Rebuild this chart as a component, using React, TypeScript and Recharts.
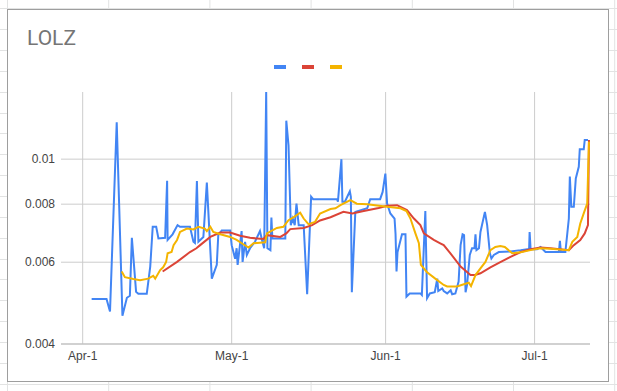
import React from 'react';
import { LineChart, Line, XAxis, YAxis, CartesianGrid } from 'recharts';

// Days counted from Apr-1 (t = 0)
const xTickValues = [0, 30, 61, 91];
const xTickLabels = ['Apr-1', 'May-1', 'Jun-1', 'Jul-1'];
const yTickValues = [0.004, 0.006, 0.008, 0.01];
const yTickLabels = ['0.004', '0.006', '0.008', '0.01'];
const chartTitle = 'LOLZ';
const seriesColors = ['#4285f4', '#db4437', '#f4b400'];

const blueT = [
  1.8, 4.8, 5.5, 6.85, 8.0, 8.9, 9.5, 9.9, 10.75, 11.2, 12.9, 13.6, 14.1, 14.8, 15.25, 16.6, 17.0, 17.1,
  18.1, 19.1, 19.6, 21.6, 22.3, 22.6, 23.0, 23.3, 24.3, 25.0, 26.0, 27.0, 27.3, 28.0, 29.7, 30.0, 30.7,
  31.0, 31.2, 32.0, 32.2, 32.7, 33.05, 33.7, 34.7, 35.7, 36.1, 36.55, 36.95, 37.2, 37.8, 38.0, 38.2, 40.8,
  41.0, 41.45, 41.9, 42.3, 42.7, 43.05, 43.5, 44.5, 45.2, 46.0, 46.4, 51.2, 51.4, 52.1, 52.3, 52.8, 53.8,
  54.0, 54.2, 54.9, 55.2, 57.3, 57.9, 59.9, 60.4, 60.95, 61.3, 61.95, 62.8, 63.0, 63.2, 63.4, 64.3, 65.0,
  65.2, 65.85, 68.0, 68.3, 69.0, 69.35, 69.9, 70.9, 71.4, 71.6, 72.4, 72.7, 73.4, 74.1, 74.4, 75.05, 75.7,
  76.1, 76.5, 76.8, 77.1, 77.4, 77.95, 78.4, 78.9, 79.1, 79.3, 79.8, 80.1, 81.0, 81.45, 82.0, 82.3, 82.8,
  83.8, 86.15, 88.2, 89.9, 90.0, 90.2, 91.5, 92.2, 93.2, 95.9, 96.1, 96.3, 97.2, 97.9, 98.1, 98.4, 98.9,
  99.3, 99.9, 100.1, 100.9, 101.1, 101.75,
];
const blueV = [
  0.005, 0.005, 0.0047, 0.012, 0.0046, 0.00503, 0.00508, 0.00677, 0.00518, 0.00513, 0.00513, 0.00587,
  0.00715, 0.00715, 0.00675, 0.00677, 0.00898, 0.0067, 0.00689, 0.00721, 0.00715, 0.00715, 0.00664, 0.0066,
  0.00897, 0.00664, 0.0068, 0.0089, 0.00553, 0.00592, 0.00686, 0.00702, 0.00702, 0.00653, 0.0061, 0.00643,
  0.00592, 0.007, 0.00601, 0.00664, 0.00622, 0.00643, 0.00664, 0.007, 0.0067, 0.00643, 0.01395, 0.00643,
  0.00637, 0.00749, 0.00675, 0.00675, 0.0121, 0.0107, 0.00721, 0.00745, 0.00721, 0.00802, 0.00721, 0.00721,
  0.00512, 0.0083, 0.0082, 0.0082, 0.0081, 0.01, 0.0081, 0.0081, 0.00853, 0.0083, 0.00517, 0.0077, 0.00772,
  0.00784, 0.0082, 0.0082, 0.0085, 0.00931, 0.00802, 0.00764, 0.00745, 0.0069, 0.00573, 0.00631, 0.00689,
  0.00689, 0.00506, 0.00514, 0.00514, 0.0051, 0.00773, 0.00502, 0.00514, 0.00517, 0.00553, 0.0052, 0.00527,
  0.0052, 0.00514, 0.00522, 0.00512, 0.00514, 0.00545, 0.00653, 0.00689, 0.00686, 0.00517, 0.00536, 0.00622,
  0.00643, 0.00643, 0.00689, 0.00637, 0.00643, 0.00697, 0.0077, 0.00721, 0.00627, 0.00611, 0.00622, 0.00631,
  0.00633, 0.00637, 0.00641, 0.00697, 0.0064, 0.0064, 0.00647, 0.00631, 0.00631, 0.00667, 0.00631, 0.00631,
  0.00745, 0.00917, 0.0079, 0.0079, 0.00909, 0.00963, 0.0105, 0.0105, 0.011, 0.011,
];

const redT = [
  16.1, 19.0, 21.6, 22.9, 23.65, 25.7, 27.7, 29.7, 31.7, 33.7, 36.4, 37.1, 39.8, 41.0, 41.8, 44.5, 46.2,
  47.8, 49.9, 52.5, 54.3, 56.6, 59.6, 61.3, 63.3, 65.3, 66.7, 68.0, 68.7, 70.7, 72.0, 72.7, 74.05, 76.1,
  78.1, 79.0, 80.1, 82.1, 84.1, 86.15, 88.2, 90.2, 92.2, 94.2, 97.9, 98.9, 100.2, 101.1, 101.75, 101.95,
];
const redV = [
  0.00573, 0.00601, 0.00631, 0.00643, 0.00653, 0.0068, 0.00695, 0.00695, 0.00684, 0.00677, 0.00673, 0.00686,
  0.0068, 0.00692, 0.00707, 0.00711, 0.00721, 0.00738, 0.0075, 0.0077, 0.00764, 0.00773, 0.00785, 0.00794,
  0.00796, 0.00777, 0.00745, 0.00721, 0.00692, 0.0067, 0.00659, 0.00653, 0.00627, 0.00587, 0.00563, 0.00563,
  0.00568, 0.00585, 0.006, 0.00616, 0.00631, 0.0064, 0.00645, 0.00643, 0.00637, 0.00653, 0.0067, 0.00692,
  0.00721, 0.011,
];

const yellowT = [
  7.85, 8.5, 10.2, 11.55, 13.2, 14.2, 14.6, 15.6, 16.2, 16.8, 17.1, 17.9, 18.3, 19.0, 19.6, 21.0, 22.3,
  23.3, 24.6, 25.0, 25.7, 26.3, 27.7, 29.7, 31.0, 32.4, 33.4, 34.4, 36.75, 37.1, 39.1, 40.4, 41.45, 42.5,
  43.8, 44.5, 45.5, 46.8, 47.8, 49.9, 50.9, 51.9, 53.9, 55.2, 57.3, 61.3, 64.0, 65.2, 66.0, 67.0, 67.7,
  68.1, 69.35, 71.0, 72.7, 73.4, 75.4, 76.75, 77.75, 78.2, 79.1, 80.1, 81.1, 82.1, 83.1, 84.1, 85.0, 86.5,
  88.2, 90.2, 92.2, 94.2, 97.9, 98.6, 99.6, 100.2, 101.0, 101.6, 101.95,
];
const yellowV = [
  0.00573, 0.00557, 0.00552, 0.00549, 0.00553, 0.00561, 0.00553, 0.00577, 0.00585, 0.00601, 0.00627, 0.00631,
  0.00653, 0.0067, 0.00697, 0.00709, 0.00706, 0.00715, 0.00709, 0.007, 0.00715, 0.00697, 0.00689, 0.0068,
  0.0067, 0.00655, 0.00645, 0.00659, 0.00662, 0.00692, 0.00711, 0.00715, 0.00739, 0.0075, 0.00767, 0.00745,
  0.00724, 0.00733, 0.00764, 0.00781, 0.00784, 0.00796, 0.00816, 0.00802, 0.008, 0.0079, 0.00784, 0.00773,
  0.00745, 0.00692, 0.00659, 0.00592, 0.00571, 0.00553, 0.00536, 0.00532, 0.00532, 0.00538, 0.00542, 0.00533,
  0.00563, 0.00582, 0.00601, 0.00637, 0.00647, 0.0065, 0.00647, 0.00627, 0.0063, 0.00637, 0.00643, 0.00641,
  0.00637, 0.00664, 0.0068, 0.00727, 0.0077, 0.00802, 0.0109,
];

const toData = (ts: number[], vs: number[]) => ts.map((t, i) => ({ t, v: vs[i] }));
const blueData = toData(blueT, blueV);
const redData = toData(redT, redV);
const yellowData = toData(yellowT, yellowV);

const W = 617;
const H = 391;
const sheetCols = [7, 108.2, 209.4, 310.6, 411.8, 513, 614.2];
const sheetRows = Array.from({ length: 19 }, (_, k) => 8.3 + 20.85 * k);

const tickFont = { fontFamily: '"Liberation Sans", Arial, sans-serif', fontSize: 12, fill: '#444444' };

const applyScale = (axis: any, v: number) => {
  const s = axis && axis.scale;
  if (typeof s === 'function') return s(v);
  if (s && typeof s.map === 'function') return s.map(v);
  return 0;
};

export default function App() {
  return (
    <div style={{ position: 'absolute', left: 0, top: 0, width: W, height: H, background: '#ffffff', overflow: 'hidden' }}>
      <svg width={W} height={H} style={{ position: 'absolute', left: 0, top: 0 }}>
        {sheetCols.map((x, i) => (
          <line key={'c' + i} x1={x + 0.5} x2={x + 0.5} y1={0} y2={H} stroke="#e2e3e3" strokeWidth={1} />
        ))}
        {sheetRows.map((y, i) => (
          <line key={'r' + i} x1={0} x2={W} y1={Math.round(y) + 0.5} y2={Math.round(y) + 0.5} stroke="#e2e3e3" strokeWidth={1} />
        ))}
        <rect x={7.5} y={9.5} width={601} height={372} fill="#ffffff" stroke="#9e9e9e" strokeWidth={1} />
        <text x={27} y={45} fontFamily="Roboto, sans-serif" fontSize={21} fill="#757575">
          {chartTitle}
        </text>
        {seriesColors.map((c, i) => (
          <rect key={'lg' + i} x={274 + i * 28} y={65} width={12} height={4} fill={c} />
        ))}
      </svg>
      <div style={{ position: 'absolute', left: 0, top: 0 }}>
        <LineChart width={W} height={H} margin={{ top: 92, right: 27, bottom: 17, left: 11 }}>
          <CartesianGrid
            stroke="#cccccc"
            strokeWidth={1}
            horizontalCoordinatesGenerator={({ yAxis }: any) => yTickValues.map((v) => applyScale(yAxis, v))}
            verticalCoordinatesGenerator={({ xAxis }: any) => xTickValues.map((v) => applyScale(xAxis, v))}
          />
          <XAxis
            type="number"
            dataKey="t"
            domain={[-4.37, 102.16]}
            allowDataOverflow
            ticks={xTickValues}
            tickFormatter={(v: number) => xTickLabels[xTickValues.indexOf(v)] ?? ''}
            tickLine={false}
            tickSize={0}
            tickMargin={7}
            axisLine={{ stroke: '#bdbdbd' }}
            height={30}
            tick={tickFont}
            interval={0}
          />
          <YAxis
            type="number"
            scale="log"
            domain={[0.004, 0.01395]}
            allowDataOverflow
            ticks={yTickValues}
            tickFormatter={(v: number) => yTickLabels[yTickValues.indexOf(v)] ?? ''}
            tickLine={false}
            axisLine={false}
            tickSize={0}
            tickMargin={6}
            width={50}
            tick={tickFont}
            interval={0}
          />
          <Line data={blueData} dataKey="v" type="linear" stroke={seriesColors[0]} strokeWidth={2} dot={false} activeDot={false} isAnimationActive={false} />
          <Line data={redData} dataKey="v" type="linear" stroke={seriesColors[1]} strokeWidth={2} dot={false} activeDot={false} isAnimationActive={false} />
          <Line data={yellowData} dataKey="v" type="linear" stroke={seriesColors[2]} strokeWidth={2} dot={false} activeDot={false} isAnimationActive={false} />
        </LineChart>
      </div>
    </div>
  );
}
